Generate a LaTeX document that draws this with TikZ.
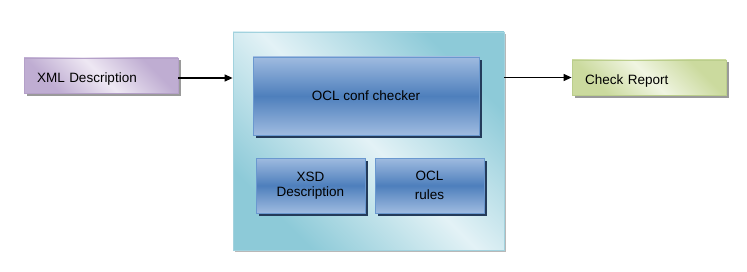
\documentclass[tikz,border=0pt]{standalone}
\usepackage{fontspec}
\setmainfont{Liberation Sans}
\usetikzlibrary{shadows,arrows.meta}

% palette
\definecolor{xmlLt}{HTML}{EEE8F3}
\definecolor{xmlDk}{HTML}{BFADD2}
\definecolor{xmlLine}{HTML}{B4A0C8}
\definecolor{repLt}{HTML}{F0F5E2}
\definecolor{repDk}{HTML}{CBDA9E}
\definecolor{repLine}{HTML}{BBCE8C}
\definecolor{sysLt}{HTML}{E3F2F6}
\definecolor{sysDk}{HTML}{8DCAD8}
\definecolor{sysLine}{HTML}{A2D2DE}
\definecolor{blueLt}{HTML}{9FBBE0}
\definecolor{blueDk}{HTML}{4E7FBC}
\definecolor{blueLine}{HTML}{6A98CF}
\definecolor{blueShadow}{HTML}{243B5A}
\definecolor{greyShadow}{HTML}{9A9A9A}

% diagonal band shadings: dark corners, light band across the middle
\pgfdeclarehorizontalshading{xmlshade}{100bp}{color(0bp)=(xmlDk); color(28bp)=(xmlDk); color(50bp)=(xmlLt); color(72bp)=(xmlDk); color(100bp)=(xmlDk)}
\pgfdeclarehorizontalshading{repshade}{100bp}{color(0bp)=(repDk); color(28bp)=(repDk); color(50bp)=(repLt); color(72bp)=(repDk); color(100bp)=(repDk)}
\pgfdeclarehorizontalshading{sysshade}{100bp}{color(0bp)=(sysDk); color(26bp)=(sysDk); color(50bp)=(sysLt); color(74bp)=(sysDk); color(100bp)=(sysDk)}

\tikzset{
  base/.style={rectangle, inner sep=0pt, line width=0.8pt,
    font=\fontsize{13.5}{15.5}\selectfont},
  greyshadow/.style={drop shadow={shadow xshift=2.5pt, shadow yshift=-2.5pt,
    fill=greyShadow, opacity=1}},
  endbox/.style={base, greyshadow, minimum width=154pt, minimum height=35pt,
    text width=128pt, align=left, shading angle=45,
    text height=15pt, text depth=1.5pt},
  xmlbox/.style={endbox, draw=xmlLine, shading=xmlshade},
  repbox/.style={endbox, draw=repLine, shading=repshade},
  sysbox/.style={base, draw=sysLine, shading=sysshade, shading angle=45,
    drop shadow={shadow xshift=2pt, shadow yshift=-2pt, fill=greyShadow!70, opacity=1},
    minimum width=271pt, minimum height=218pt},
  bluebox/.style={base, draw=blueLine, top color=blueLt, bottom color=blueLt,
    middle color=blueDk, align=center,
    drop shadow={shadow xshift=3pt, shadow yshift=-3pt, fill=blueShadow, opacity=1}},
  flow/.style={line width=1.2pt, -{Triangle[length=8pt,width=7pt]}}
}

\begin{document}
\begin{tikzpicture}[x=1pt,y=1pt]
  \useasboundingbox (0,0) rectangle (747,271);

  % container and its parts
  \node[sysbox] (sys) at (368.5,130) {};
  \node[bluebox, minimum width=226pt, minimum height=78pt] (chk) at (366,175) {OCL conf checker};
  \node[bluebox, minimum width=109pt, minimum height=55pt] (xsd) at (310.5,85.5) {XSD\\[0pt]Description};
  \node[bluebox, minimum width=109pt, minimum height=55pt] (rules) at (429.5,85.5) {OCL\\[3.5pt]rules};

  % input and output
  \node[xmlbox] (xml) at (101,195.5) {XML Description};
  \node[repbox] (rep) at (649,193.5) {Check Report};

  % connectors
  \coordinate (inA) at ([yshift=-2.5pt]xml.east);
  \draw[flow] (inA) -- (inA -| sys.west);
  \draw[flow] (rep.west -| sys.east) -- (rep.west);
\end{tikzpicture}
\end{document}
